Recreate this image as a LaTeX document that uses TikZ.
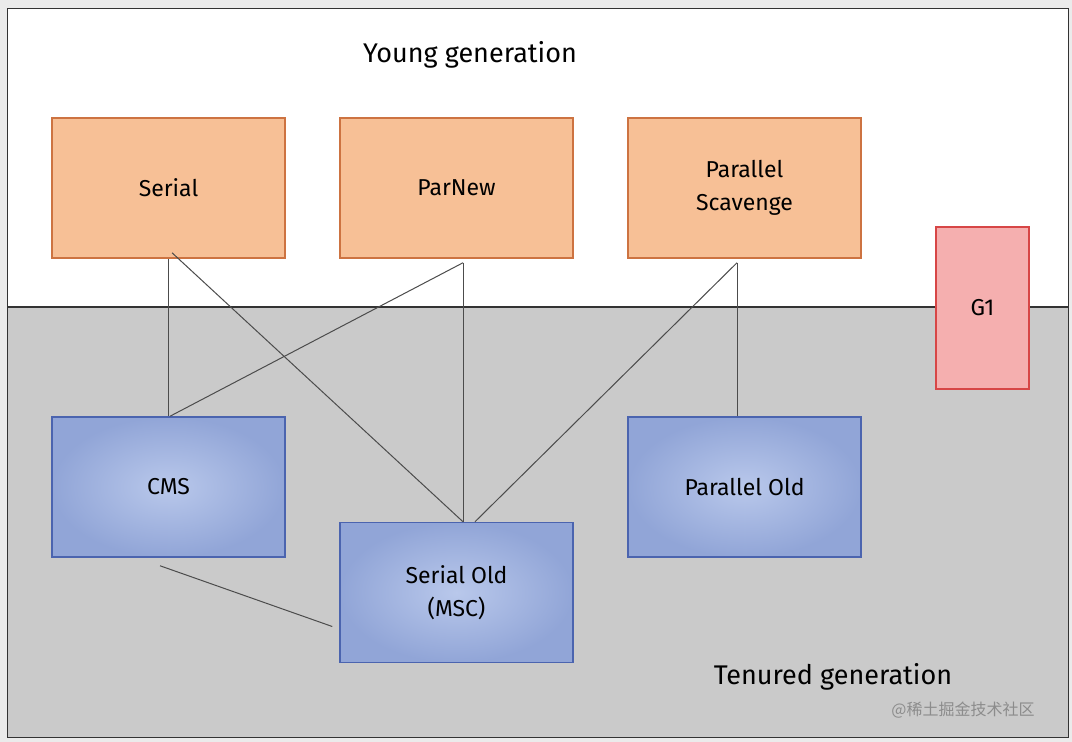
\documentclass[tikz,border=0pt]{standalone}
\usepackage{fontspec}
\setmainfont{Fira Sans}
\newfontfamily\cjk{Noto Sans CJK SC}
\definecolor{ofill}{RGB}{247,192,150}
\definecolor{odraw}{RGB}{205,115,65}
\definecolor{bfillA}{RGB}{145,165,215}
\definecolor{bfillB}{RGB}{185,200,235}
\definecolor{bdraw}{RGB}{75,100,175}
\definecolor{rfill}{RGB}{245,175,175}
\definecolor{rdraw}{RGB}{215,70,70}
\definecolor{tgray}{RGB}{202,202,202}
\begin{document}
\begin{tikzpicture}[x=1pt,y=-1pt,
 box/.style={line width=1.5pt,minimum width=233pt,minimum height=140pt,align=center,font=\fontsize{23}{33}\selectfont,inner sep=0pt},
 ybox/.style={box,draw=odraw,fill=ofill},
 bbox/.style={box,draw=bdraw,inner color=bfillB,outer color=bfillA},
 conn/.style={draw=black!70,line width=1pt}]
\useasboundingbox (0,0) rectangle (1072,742);
\fill[black!8] (0,0) rectangle (1072,742);
\fill[white] (7,8) rectangle (1068,307);
\fill[tgray] (7,307) rectangle (1068,737);
\draw[black!80,line width=1pt] (7,8) rectangle (1068,737);
\draw[black!80,line width=1.2pt] (7,307) -- (1068,307);
\node[font=\fontsize{27}{30}\selectfont] (yg) at (470,55) {Young generation};
\node[font=\fontsize{27}{30}\selectfont] (tg) at (833,677) {Tenured generation};
\node[font=\cjk\fontsize{16}{18}\selectfont,text=black!45] (wm) at (963,710) {@稀土掘金技术社区};
\node[ybox] (serial) at (168.5,188) {Serial};
\node[ybox] (parnew) at (456.5,188) {ParNew};
\node[ybox] (ps) at (744.5,188) {Parallel\\Scavenge};
\node[box,draw=rdraw,fill=rfill,minimum width=93pt,minimum height=162pt] (g1) at (982.5,308) {G1};
\node[bbox] (cms) at (168.5,487) {CMS};
\node[bbox] (so) at (456.5,592.5) {Serial Old\\(MSC)};
\node[bbox] (po) at (744.5,487) {Parallel Old};
\draw[conn] ([xshift=-0.5pt]serial.south) -- ([xshift=-0.5pt]cms.north);
\draw[conn] ([xshift=3.5pt,yshift=6pt]serial.south) -- ([xshift=6.5pt]so.north);
\draw[conn] ([xshift=6.5pt,yshift=-4pt]parnew.south) -- ([xshift=1.5pt]cms.north);
\draw[conn] ([xshift=6.5pt,yshift=-4pt]parnew.south) -- ([xshift=6.5pt]so.north);
\draw[conn] ([xshift=-7.5pt,yshift=-4pt]ps.south) -- ([xshift=18.5pt]so.north);
\draw[conn] ([xshift=-7.5pt,yshift=-4pt]ps.south) -- ([xshift=-7.5pt]po.north);
\draw[conn] ([xshift=-8.5pt,yshift=-8pt]cms.south) -- ([xshift=-7pt,yshift=-34pt]so.west);
\end{tikzpicture}
\end{document}
